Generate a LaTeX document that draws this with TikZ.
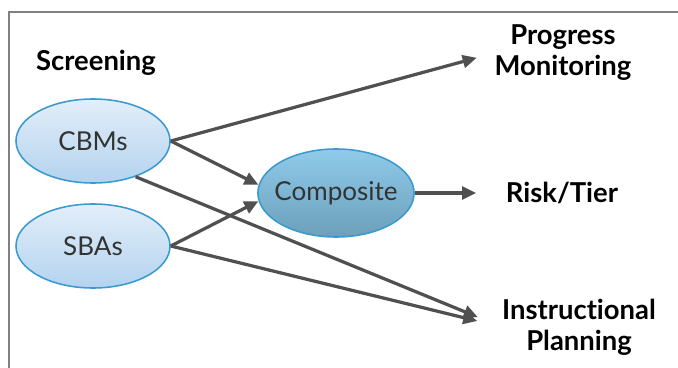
\documentclass[tikz,border=0pt]{standalone}
\usepackage{fontspec}
\setmainfont{Lato}[Ligatures=NoCommon]
\usetikzlibrary{shapes.geometric,arrows.meta}
\definecolor{elltop}{HTML}{E3EEF9}
\definecolor{ellbot}{HTML}{B3D3EF}
\definecolor{ellrim}{HTML}{3A9AD0}
\definecolor{comptop}{HTML}{8FCBEA}
\definecolor{compbot}{HTML}{6C9FBA}
\definecolor{arr}{HTML}{505050}
\definecolor{frm}{HTML}{808080}
\definecolor{txt}{HTML}{333333}
\begin{document}
\begin{tikzpicture}[x=0.025cm,y=-0.025cm,
  src/.style={ellipse,draw=ellrim,line width=1.1pt,top color=elltop,bottom color=ellbot,
    minimum width=3.85cm,minimum height=2.1cm,inner sep=0pt,text=txt,font=\fontsize{18.5}{22}\selectfont},
  mid/.style={src,top color=comptop,bottom color=compbot,minimum width=3.9cm,minimum height=2.2cm,inner xsep=-4.5pt},
  lab/.style={font=\bfseries\fontsize{19.5}{22}\selectfont,align=center,inner sep=0pt},
  a/.style={draw=arr,line width=2.3pt,-{Triangle[length=10pt,width=9pt]}}]
  \useasboundingbox (0,0) rectangle (678,368);
  % frame, cut off at right and bottom
  \draw[frm,line width=1.4pt] (9,368) -- (9,12) -- (678,12);
  \node[lab] (scr) at (96,63) {Screening};
  \node[src] (cbm) at (93,141) {CBMs};
  \node[src] (sba) at (93,246) {SBAs};
  \node[mid] (comp) at (336,193) {Composite};
  \node[lab] (prog) at (563,53) {Progress\\Monitoring};
  \node[lab] (risk) at (562,193) {Risk/Tier};
  \node[lab] (instr) at (579,327) {Instructional\\Planning};
  % arrows
  \draw[a,shorten >=13pt] (cbm.east) -- (prog.west);
  \draw[a] (cbm.east) -- (comp.174);
  \draw[a,shorten >=18.5pt] (cbm.-40) -- (instr.west);
  \draw[a] (sba.east) -- (comp.186);
  \draw[a,shorten >=18pt] (sba.east) -- (instr.west);
  \draw[a,shorten >=21pt] (comp.east) -- (risk.west);
\end{tikzpicture}
\end{document}
